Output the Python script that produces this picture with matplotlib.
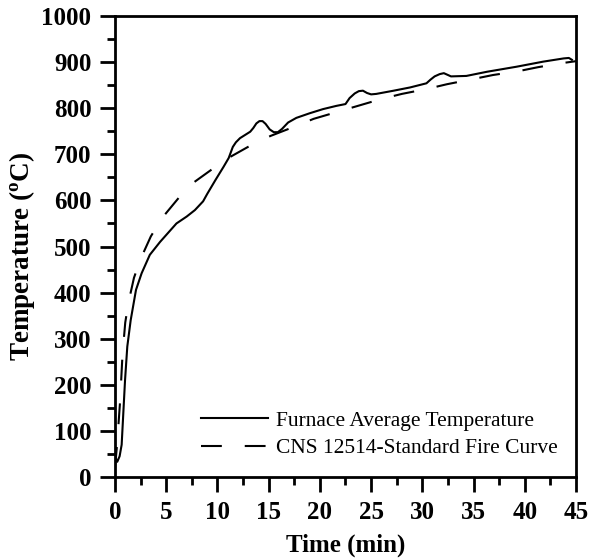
import numpy as np
import matplotlib
matplotlib.use('Agg')
import matplotlib.pyplot as plt
from matplotlib.ticker import MultipleLocator

# furnace average temperature
t_furnace = [0.0, 0.22, 0.45, 0.65, 0.81, 0.98, 1.2, 1.53, 2.05, 2.6, 3.4, 4.4, 6.0,
             7.0, 7.8, 8.6, 9.0, 9.8, 10.6, 11.1, 11.5, 11.8, 12.2, 12.7, 13.2,
             13.5, 13.8, 14.1, 14.4, 14.7, 15.1, 15.5, 15.9, 16.3, 16.9, 17.7,
             19.0, 20.3, 21.6, 22.5, 22.9, 23.4, 23.8, 24.2, 24.6, 25.0, 25.5,
             27.2, 28.8, 30.4, 30.8, 31.2, 31.7, 32.1, 32.4, 32.8, 34.3, 36.3,
             39.2, 41.8, 43.8, 44.3, 44.6]
T_furnace = [45, 33, 45, 70, 138, 210, 283, 340, 406, 442, 482, 510, 550,
             565, 579, 598, 614, 644, 673, 692, 716, 726, 735, 742, 749,
             757, 767, 772, 772, 766, 754, 748, 748, 755, 769, 779,
             789, 798, 805, 809, 822, 832, 837, 838, 833, 830, 831,
             838, 845, 854, 862, 869, 874, 876, 873, 869, 870, 879,
             890, 901, 908, 909, 905]

# CNS 12514 standard fire curve
t_std = [0.0, 0.2, 0.5, 0.73, 1.0, 1.3, 1.85, 2.5, 3.5, 4.6, 6.2, 7.5, 9.5,
         10.9, 13.3, 15.2, 17.4, 19.4, 21.7, 23.7, 26.0, 28.0, 30.5, 32.4,
         34.9, 36.9, 39.3, 41.3, 43.7, 45.0]
T_std = [20, 70, 165, 265, 335, 377, 432, 473, 522, 562, 605, 636, 668,
         690, 720, 740, 759, 777, 792, 805, 820, 831, 842, 852,
         863, 872, 880, 889, 898, 902]

plt.rcParams['font.family'] = ['Liberation Serif', 'DejaVu Serif']
plt.rcParams['font.weight'] = 'bold'

fig = plt.figure(figsize=(5.89, 5.59), dpi=100)
ax = fig.add_axes([115 / 589, 1 - 477 / 559, 461 / 589, 461 / 559])

ax.plot(t_furnace, T_furnace, color='black', lw=1.5, solid_joinstyle='round',
        label='Furnace Average Temperature')
ax.plot(t_std, T_std, color='black', lw=1.5, linestyle=(0, (10, 11)),
        label='CNS 12514-Standard Fire Curve')

ax.set_xlim(0, 45)
ax.set_ylim(0, 1000)
ax.xaxis.set_major_locator(MultipleLocator(5))
ax.xaxis.set_minor_locator(MultipleLocator(2.5))
ax.yaxis.set_major_locator(MultipleLocator(100))
ax.yaxis.set_minor_locator(MultipleLocator(50))

ax.tick_params(which='major', direction='out', length=11, width=2, labelsize=18, pad=6)
ax.tick_params(which='minor', direction='out', length=6, width=2)
ax.tick_params(top=False, right=False)
for lab in ax.get_xticklabels() + ax.get_yticklabels():
    lab.set_fontweight('bold')
for s in ax.spines.values():
    s.set_linewidth(2)

ax.set_xlabel('Time (min)', fontsize=18, fontweight='bold')
ax.set_ylabel(r'Temperature ($\mathregular{^o}$C)', fontsize=19.5, fontweight='bold')
ax.xaxis.set_label_coords(0.5, -0.122)
ax.yaxis.set_label_coords(-0.17, 0.479)

leg = ax.legend(loc='lower right', frameon=False, handlelength=3.1, handletextpad=0.37,
                prop={'family': 'Liberation Serif', 'weight': 'normal', 'size': 15.5},
                borderaxespad=0.57, labelspacing=0.35, borderpad=0.3)

fig.savefig('out.png', dpi=100)
